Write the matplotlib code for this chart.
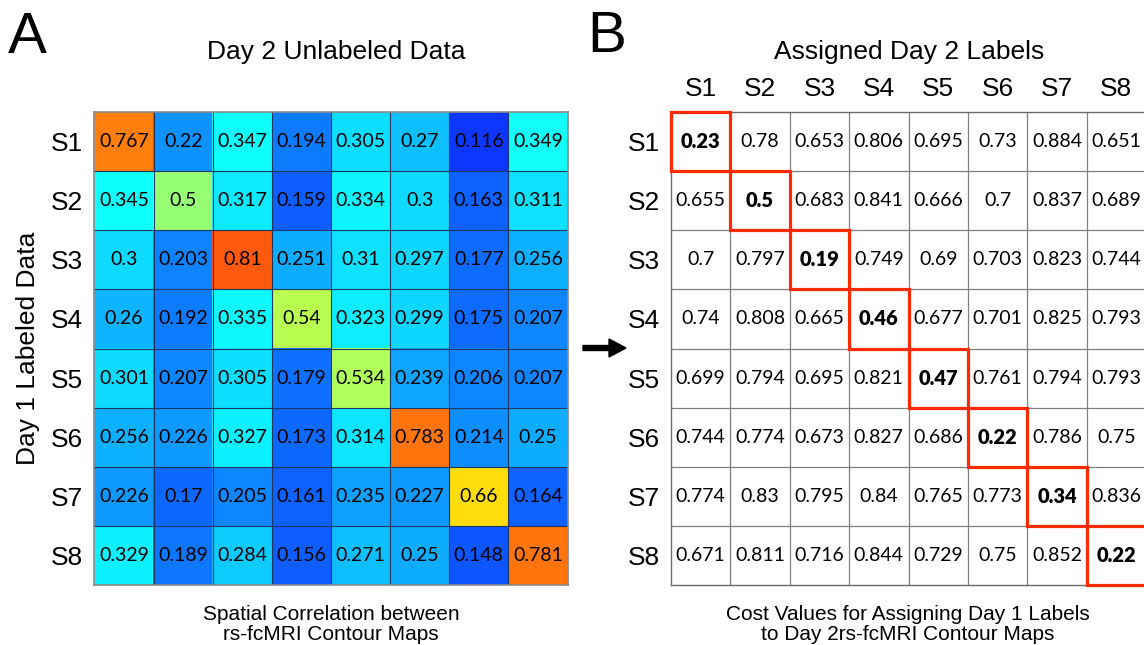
import matplotlib
matplotlib.use("Agg")
import matplotlib.pyplot as plt
import numpy as np
from matplotlib.colors import LinearSegmentedColormap
from matplotlib.patches import Rectangle, FancyArrow
from matplotlib.transforms import IdentityTransform

# data
labels = ["S1", "S2", "S3", "S4", "S5", "S6", "S7", "S8"]

corr = np.array([
    [0.767, 0.22, 0.347, 0.194, 0.305, 0.27, 0.116, 0.349],
    [0.345, 0.5, 0.317, 0.159, 0.334, 0.3, 0.163, 0.311],
    [0.3, 0.203, 0.81, 0.251, 0.31, 0.297, 0.177, 0.256],
    [0.26, 0.192, 0.335, 0.54, 0.323, 0.299, 0.175, 0.207],
    [0.301, 0.207, 0.305, 0.179, 0.534, 0.239, 0.206, 0.207],
    [0.256, 0.226, 0.327, 0.173, 0.314, 0.783, 0.214, 0.25],
    [0.226, 0.17, 0.205, 0.161, 0.235, 0.227, 0.66, 0.164],
    [0.329, 0.189, 0.284, 0.156, 0.271, 0.25, 0.148, 0.781],
])

cost = np.array([
    [0.23, 0.78, 0.653, 0.806, 0.695, 0.73, 0.884, 0.651],
    [0.655, 0.5, 0.683, 0.841, 0.666, 0.7, 0.837, 0.689],
    [0.7, 0.797, 0.19, 0.749, 0.69, 0.703, 0.823, 0.744],
    [0.74, 0.808, 0.665, 0.46, 0.677, 0.701, 0.825, 0.793],
    [0.699, 0.794, 0.695, 0.821, 0.47, 0.761, 0.794, 0.793],
    [0.744, 0.774, 0.673, 0.827, 0.686, 0.22, 0.786, 0.75],
    [0.774, 0.83, 0.795, 0.84, 0.765, 0.773, 0.34, 0.836],
    [0.671, 0.811, 0.716, 0.844, 0.729, 0.75, 0.852, 0.22],
])

# column chosen for each row (Hungarian assignment)
assigned = [0, 1, 2, 3, 4, 5, 6, 7]

W, H = 1144, 645
LABEL_FONT = "Liberation Sans"
NUM_FONT = "Lato"
RED = "#ff2a00"

# MATLAB-style jet (matplotlib's jet has a wider green band)
mjet = LinearSegmentedColormap("mjet", {
    "red": [(0, 0, 0), (0.375, 0, 0), (0.625, 1, 1), (0.875, 1, 1), (1, 0.5, 0.5)],
    "green": [(0, 0, 0), (0.125, 0, 0), (0.375, 1, 1), (0.625, 1, 1),
              (0.875, 0, 0), (1, 0, 0)],
    "blue": [(0, 0.5, 0.5), (0.125, 1, 1), (0.375, 1, 1), (0.625, 0, 0), (1, 0, 0)],
})

fig = plt.figure(figsize=(W / 100, H / 100), dpi=100)


def px(x, y):
    # pixel position from top-left -> figure fraction
    return x / W, 1 - y / H


n = len(labels)

# ---- panel A: heatmap
axA = fig.add_axes([94 / W, 60 / H, 474 / W, 473 / H])
axA.imshow(corr, cmap=mjet, vmin=-0.075, vmax=1.04, alpha=0.95,
           interpolation="nearest", extent=(-0.5, n - 0.5, n - 0.5, -0.5))
for k in range(1, n):
    axA.axhline(k - 0.5, color="#1f3760", lw=0.8)
    axA.axvline(k - 0.5, color="#1f3760", lw=0.8)
for i in range(n):
    for j in range(n):
        axA.text(j, i, f"{corr[i, j]:g}", ha="center", va="center",
                 fontsize=14, family=NUM_FONT, color="black")
axA.set_xticks([])
axA.set_yticks(range(n))
axA.set_yticklabels(labels, fontsize=19, family=LABEL_FONT)
axA.tick_params(axis="y", length=0, pad=8)
for s in axA.spines.values():
    s.set_color("#8a8a8a")
    s.set_linewidth(1.2)

# ---- panel B: cost table
axB = fig.add_axes([671 / W, 60 / H, 475 / W, 473 / H])
axB.set_xlim(-0.5, n - 0.5)
axB.set_ylim(n - 0.5, -0.5)
for k in range(1, n):
    axB.axhline(k - 0.5, color="#808080", lw=0.9)
    axB.axvline(k - 0.5, color="#808080", lw=0.9)
for i in range(n):
    for j in range(n):
        bold = assigned[i] == j
        axB.text(j, i, f"{cost[i, j]:g}", ha="center", va="center",
                 fontsize=14.5 if bold else 14, family=NUM_FONT, color="black",
                 fontweight="heavy" if bold else "normal")
for i, j in enumerate(assigned):
    axB.add_patch(Rectangle((j - 0.5, i - 0.5), 1, 1, fill=False,
                            edgecolor=RED, lw=2.3, zorder=5, clip_on=False))
axB.xaxis.tick_top()
axB.set_xticks(range(n))
axB.set_xticklabels(labels, fontsize=19, family=LABEL_FONT)
axB.set_yticks(range(n))
axB.set_yticklabels(labels, fontsize=19, family=LABEL_FONT)
axB.tick_params(length=0, pad=8)
for s in axB.spines.values():
    s.set_color("#6a6a6a")
    s.set_linewidth(1.0)

# ---- texts
fig.text(*px(8, 53), "A", fontsize=42, family=LABEL_FONT, va="baseline")
fig.text(*px(587, 52), "B", fontsize=42, family=LABEL_FONT, va="baseline")
fig.text(*px(336, 59), "Day 2 Unlabeled Data", fontsize=19,
         family=LABEL_FONT, ha="center", va="baseline")
fig.text(*px(909, 59), "Assigned Day 2 Labels", fontsize=19,
         family=LABEL_FONT, ha="center", va="baseline")
fig.text(*px(28, 348), "Day 1 Labeled Data", fontsize=19, rotation=90,
         family=LABEL_FONT, ha="center", va="center")

fig.text(*px(331, 620), "Spatial Correlation between", fontsize=15,
         family=LABEL_FONT, ha="center", va="baseline")
fig.text(*px(331, 640), "rs-fcMRI Contour Maps", fontsize=15,
         family=LABEL_FONT, ha="center", va="baseline")
fig.text(*px(908, 620), "Cost Values for Assigning Day 1 Labels", fontsize=15,
         family=LABEL_FONT, ha="center", va="baseline")
fig.text(*px(908, 640), "to Day 2rs-fcMRI Contour Maps", fontsize=15,
         family=LABEL_FONT, ha="center", va="baseline")

# arrow between panels (display pixels, origin bottom-left)
fig.add_artist(FancyArrow(583, H - 348, 43, 0, width=5, head_width=18,
                          head_length=17, length_includes_head=True,
                          color="black", transform=IdentityTransform()))

fig.savefig("out.png", dpi=100)
